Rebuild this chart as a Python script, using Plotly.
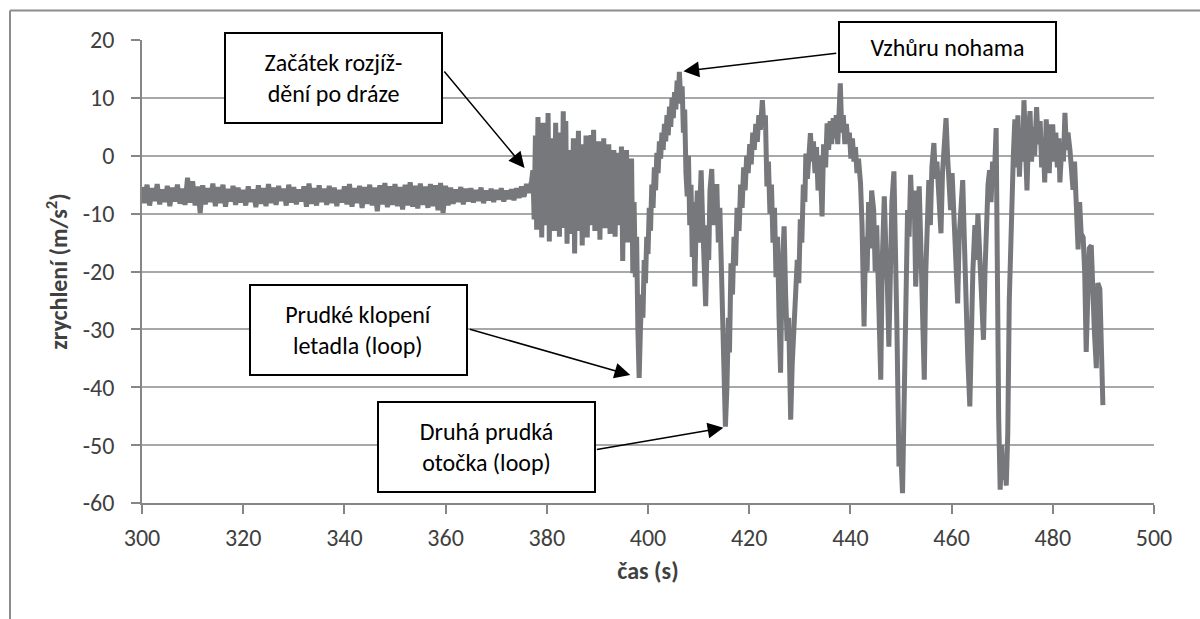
import plotly.graph_objects as go

# ---------------- data ----------------
# calm part before take-off: samples every 0.5 s starting at 300 s
calm_start = 300.0
calm_step = 0.5
calm_values = [
    -5.4, -8.2, -5.0, -8.6, -5.6, -7.8, -4.9, -8.4, -5.8, -8.0,
    -5.2, -8.7, -5.5, -7.9, -5.0, -8.3, -5.7, -8.5, -3.8, -8.1,
    -4.4, -8.6, -5.3, -9.9, -5.1, -8.4, -5.6, -8.0, -4.8, -8.7,
    -5.4, -8.2, -5.0, -8.8, -5.7, -7.9, -5.2, -8.5, -5.5, -8.1,
    -5.9, -8.6, -5.3, -8.0, -5.8, -8.9, -5.1, -8.3, -5.6, -8.7,
    -4.9, -8.2, -5.5, -8.5, -5.2, -7.8, -5.7, -8.6, -5.0, -8.1,
    -5.4, -8.4, -5.8, -7.9, -5.3, -8.8, -4.8, -8.3, -5.6, -8.6,
    -5.1, -8.0, -5.7, -8.5, -5.2, -8.2, -5.5, -8.7, -5.9, -8.1,
    -5.3, -8.4, -4.9, -8.8, -5.6, -8.2, -5.2, -9.0, -5.4, -8.3,
    -5.0, -8.6, -5.5, -9.6, -5.1, -8.4, -4.7, -8.9, -5.3, -8.5,
    -4.9, -8.7, -5.4, -9.3, -5.0, -8.6, -4.6, -8.8, -5.2, -9.1,
    -4.8, -8.5, -5.3, -9.0, -4.9, -8.7, -5.1, -9.4, -4.7, -9.9,
    -5.2, -8.6, -5.5, -8.3, -5.8, -8.0, -5.4, -8.4, -5.7, -7.9,
    -5.6, -8.1, -5.9, -7.8, -5.5, -8.2, -6.0, -7.7, -5.7, -8.0,
    -5.9, -7.6, -5.6, -7.9, -6.0, -7.5, -5.8, -7.7, -5.6, -7.3,
    -5.3, -7.1, -4.9, -6.4, -4.3,
]

# take-off run: samples every 0.25 s starting at 377.25 s
run_start = 377.25
run_step = 0.25
run_values = [
    -2.5, -11.0, 3.5, -12.8, 6.7, -9.5, 2.0, -14.1,
    5.7, -8.0, 1.5, -12.0, 7.4, -14.8, 3.0, -9.5,
    0.5, -13.0, 5.7, -10.5, 2.5, -14.0, 4.0, -11.0,
    7.7, -12.5, 6.0, -15.2, 1.0, -9.0, -0.5, -13.5,
    3.0, -16.9, 1.5, -11.0, 4.3, -13.0, 2.0, -15.5,
    0.5, -10.5, 3.5, -14.1, 1.0, -12.0, 3.6, -9.5,
    4.5, -13.0, 0.5, -11.0, 2.5, -14.5, 1.0, -10.0,
    3.0, -12.5, -0.5, -9.0, 2.0, -13.5, -0.5, -11.0,
    1.0, -14.0, -1.0, -10.5, 0.5, -12.0, 1.6, -18.2,
    -0.5, -11.0, 1.0, -15.0, -1.5, -13.0, -0.5, -20.3,
]

# aerobatics: (time s, acceleration m/s2)
flight_points = [
    (397.25, -8), (397.5, -21), (397.75, -14), (398.0, -30), (398.25, -38.4),
    (398.5, -30), (398.75, -24), (399.0, -28), (399.25, -18), (399.5, -22),
    (399.75, -14), (400.0, -17), (400.25, -9), (400.5, -13), (400.75, -5),
    (401.0, -9), (401.25, -2), (401.5, -6), (401.75, 0.5), (402.0, -3),
    (402.25, 2.5), (402.5, -0.5), (402.75, 4), (403.0, 1), (403.25, 5.5),
    (403.5, 2.5), (403.75, 7), (404.0, 3.5), (404.25, 8.5), (404.5, 5),
    (404.75, 10), (405.0, 6.5), (405.25, 11), (405.5, 8), (405.75, 13),
    (406.0, 10), (406.2, 14.5), (406.5, 9), (406.75, 12), (407.0, 4),
    (407.25, 8), (407.5, -3), (407.75, -7), (408.0, 0), (408.25, -12),
    (408.5, -5), (408.75, -17.5), (409.0, -8), (409.25, -22.6), (409.5, -12),
    (409.75, -6), (410.0, -15), (410.25, -4), (410.5, -2.5), (410.75, -10),
    (411.0, -16), (411.4, -26), (411.75, -12), (412.0, -18), (412.25, -6),
    (412.6, -2.3), (412.9, -12), (413.2, -7), (413.6, -4.9), (413.9, -15),
    (414.2, -9), (414.5, -21), (414.8, -30), (415.0, -38), (415.3, -46.8),
    (415.6, -40), (415.9, -28), (416.1, -34), (416.4, -18.6), (416.7, -24),
    (417.0, -14), (417.3, -19), (417.6, -9), (418.0, -13), (418.3, -5),
    (418.6, -9), (418.9, -2), (419.2, -6), (419.5, 0), (419.8, -3),
    (420.1, 2), (420.4, -1.5), (420.7, 4), (421.0, 1), (421.3, 5.5),
    (421.6, 2.4), (421.9, 7), (422.2, 4.5), (422.6, 9.6), (422.9, 5),
    (423.2, 7), (423.5, -5.3), (423.8, -1), (424.1, -10), (424.4, -5),
    (424.7, -15), (425.0, -9), (425.3, -21), (425.6, -14), (425.9, -28),
    (426.2, -37.5), (426.5, -20), (426.9, -12.2), (427.2, -24), (427.5, -32),
    (427.8, -28), (428.2, -45.6), (428.5, -36), (428.8, -30), (429.2, -25.5),
    (429.5, -18), (429.8, -22), (430.1, -11), (430.4, -15), (430.7, -5),
    (431.0, -8), (431.2, 0.4), (431.5, -4), (431.8, 2), (432.1, 3.9),
    (432.4, -1), (432.7, 2.5), (433.0, -3), (433.3, 1.5), (433.6, -6),
    (434.0, 0), (434.4, -10.5), (434.7, 2), (435.1, -2), (435.4, 5.6),
    (435.7, 1), (436.0, 6), (436.3, 2), (436.6, 6.5), (436.9, 3),
    (437.2, 7), (437.5, 2), (437.8, 9), (438.0, 12.5), (438.3, 4),
    (438.6, 7), (438.9, 2), (439.2, 5.5), (439.5, 2.2), (439.8, 4),
    (440.1, -0.5), (440.4, 3), (440.7, -1), (441.0, 1.5), (441.3, -3),
    (441.6, -0.5), (442.0, -4.7), (442.3, -12), (442.7, -29.5), (443.0, -14),
    (443.3, -20), (443.6, -8), (443.9, -16), (444.2, -6), (444.6, -9.4),
    (444.9, -20), (445.2, -12), (445.5, -24), (445.8, -30), (446.0, -38.7),
    (446.3, -18), (446.7, -7), (447.0, -16), (447.3, -22), (447.6, -33),
    (447.9, -15), (448.2, -8), (448.6, -2.7), (448.9, -14), (449.2, -30),
    (449.6, -53.7), (449.9, -50), (450.3, -58.3), (450.6, -45), (450.9, -22),
    (451.3, -9.4), (451.6, -14), (451.9, -3.3), (452.2, -10), (452.6, -6),
    (452.9, -22.6), (453.2, -12), (453.6, -5.3), (453.9, -15), (454.2, -25),
    (454.6, -38.7), (454.9, -20), (455.2, -8), (455.5, -4.2), (455.8, -12),
    (456.1, -2), (456.5, 2.2), (456.8, -4), (457.1, -1), (457.5, -7),
    (457.9, -13.4), (458.2, -3), (458.6, 2), (458.9, 6.5), (459.2, 0),
    (459.5, -5), (459.8, -9.4), (460.1, -3), (460.5, -12), (460.8, -18),
    (461.2, -25.5), (461.5, -14), (461.8, -8), (462.2, -4.2), (462.5, -14),
    (462.8, -25), (463.2, -35), (463.6, -43.3), (463.9, -30), (464.2, -20),
    (464.6, -12), (464.9, -18), (465.2, -10), (465.6, -18), (465.9, -24),
    (466.3, -31.8), (466.6, -20), (466.9, -10), (467.2, -5), (467.5, -2.5),
    (467.8, -8), (468.1, -1), (468.4, -5), (468.8, 4.8), (469.0, -20),
    (469.3, -45), (469.6, -57.7), (469.9, -50), (470.2, -56), (470.5, -52),
    (470.8, -57), (471.1, -48), (471.4, -25), (471.6, -17.5), (471.9, -7.3),
    (472.2, 0), (472.5, 6.3), (472.8, -2), (473.1, 7), (473.4, -3.6),
    (473.7, 3), (474.0, -1), (474.3, 9.6), (474.6, 1), (474.9, -6),
    (475.2, 4), (475.5, 7.7), (475.8, -1), (476.1, 5), (476.4, 0),
    (476.8, 8.4), (477.1, 2), (477.5, 6), (477.8, -2), (478.1, 3),
    (478.4, -4.6), (478.7, 6.3), (479.0, 1), (479.3, -3), (479.6, 5),
    (480.0, 5), (480.3, -1), (480.6, 4), (480.9, -2), (481.2, 3),
    (481.4, -4.6), (481.8, 2), (482.1, -1), (482.4, 7.4), (482.7, 1),
    (483.0, 4), (483.4, 0.9), (483.7, -3), (484.0, -5.9), (484.3, -1),
    (484.6, -9), (485.0, -16.2), (485.3, -8), (485.6, -13.4), (486.0, -14.1),
    (486.3, -20), (486.6, -33.9), (486.9, -20), (487.2, -16), (487.6, -15.5),
    (487.9, -25), (488.2, -30), (488.6, -36.7), (488.9, -22), (489.3, -23),
    (489.6, -33), (489.9, -43.1),
]

x_ticks = [300, 320, 340, 360, 380, 400, 420, 440, 460, 480, 500]
y_ticks = [20, 10, 0, -10, -20, -30, -40, -50, -60]
y_tick_text = ["20", "10", "0", "-10", "-20", "-30", "-40", "-50", "-60"]

x_title = "čas (s)"
y_title = "zrychlení (m/s<sup>2</sup>)"

# annotation texts, arrow tips (time, value), arrow tails and box centres
notes = [
    {"text": "Začátek rozjíž-<br>dění po dráze", "tip": (375.6, -2.1), "tail": (359.5, 14.8), "box": (337.9, 13.4), "h": 88},
    {"text": "Vzhůru nohama", "tip": (407.0, 14.6), "tail": (437.5, 17.75), "box": (459.1, 18.8), "h": 48},
    {"text": "Prudké klopení<br>letadla (loop)", "tip": (396.5, -37.9), "tail": (364.5, -29.9), "box": (342.8, -30.1), "h": 88},
    {"text": "Druhá prudká<br>otočka (loop)", "tip": (414.9, -47.0), "tail": (389.6, -50.8), "box": (368.1, -50.3), "h": 88},
]

# ---------------- build series ----------------
t = [calm_start + calm_step * i for i in range(len(calm_values))]
a = list(calm_values)
t += [run_start + run_step * i for i in range(len(run_values))]
a += list(run_values)
t += [p[0] for p in flight_points]
a += [p[1] for p in flight_points]

FONT = "Carlito, Lato, sans-serif"
AXIS = "#868686"
TXT = "#404040"

fig = go.Figure()
fig.add_trace(go.Scatter(
    x=t, y=a, mode="lines",
    line=dict(color="#77787b", width=5),
    showlegend=False, hoverinfo="skip",
))

# frame of the chart area (cut at the right and bottom)
L, T, W, H = 142, 40, 1012, 463
def px2paper_x(px):
    return (px - L) / W
def px2paper_y(py):
    return (T + H - py) / H

shapes = [
    dict(type="line", xref="paper", yref="paper",
         x0=px2paper_x(10), y0=px2paper_y(10.5), x1=px2paper_x(1205), y1=px2paper_y(10.5),
         line=dict(color="#8c8c8c", width=2)),
    dict(type="line", xref="paper", yref="paper",
         x0=px2paper_x(10), y0=px2paper_y(10.5), x1=px2paper_x(10), y1=px2paper_y(625),
         line=dict(color="#8c8c8c", width=2)),
]

annotations = []
for n in notes:
    annotations.append(dict(
        x=n["tip"][0], y=n["tip"][1], xref="x", yref="y",
        ax=n["tail"][0], ay=n["tail"][1], axref="x", ayref="y",
        text="", showarrow=True, arrowhead=2, arrowsize=2.1, arrowwidth=1.5,
        arrowcolor="#000000", standoff=0, startstandoff=0,
    ))
for n in notes:
    annotations.append(dict(
        x=n["box"][0], y=n["box"][1], xref="x", yref="y",
        text=n["text"], showarrow=False,
        font=dict(family=FONT, size=24, color="#000000"),
        bgcolor="#ffffff", bordercolor="#000000", borderwidth=2, borderpad=0,
        width=215, height=n["h"], align="center", valign="middle",
    ))

fig.update_layout(
    width=1200, height=619,
    margin=dict(l=L, r=1200 - L - W, t=T, b=619 - T - H, pad=0),
    paper_bgcolor="#ffffff", plot_bgcolor="#ffffff",
    font=dict(family=FONT, size=24, color=TXT),
    shapes=shapes, annotations=annotations,
    xaxis=dict(
        range=[300, 500], tickvals=x_ticks, ticktext=[str(v) for v in x_ticks],
        showgrid=False, zeroline=False, showline=True, linecolor=AXIS, linewidth=1.5,
        ticks="outside", ticklen=9, tickwidth=1.5, tickcolor=AXIS,
        tickfont=dict(family=FONT, size=24, color=TXT),
        ticklabelstandoff=3,
        title=dict(text="<b>" + x_title + "</b>", standoff=12,
                   font=dict(family=FONT, size=24, color=TXT)),
        automargin=False,
    ),
    yaxis=dict(
        range=[-60, 20], tickvals=y_ticks, ticktext=y_tick_text,
        showgrid=True, gridcolor="#a8a8a8", gridwidth=1.5,
        zeroline=False, showline=True, linecolor=AXIS, linewidth=1.5,
        ticks="outside", ticklen=9, tickwidth=1.5, tickcolor=AXIS,
        tickfont=dict(family=FONT, size=24, color=TXT),
        ticklabelstandoff=12,
        title=dict(text="<b>" + y_title + "</b>", standoff=8,
                   font=dict(family=FONT, size=24, color=TXT)),
        automargin=False,
    ),
)

fig.write_html("out.html")
